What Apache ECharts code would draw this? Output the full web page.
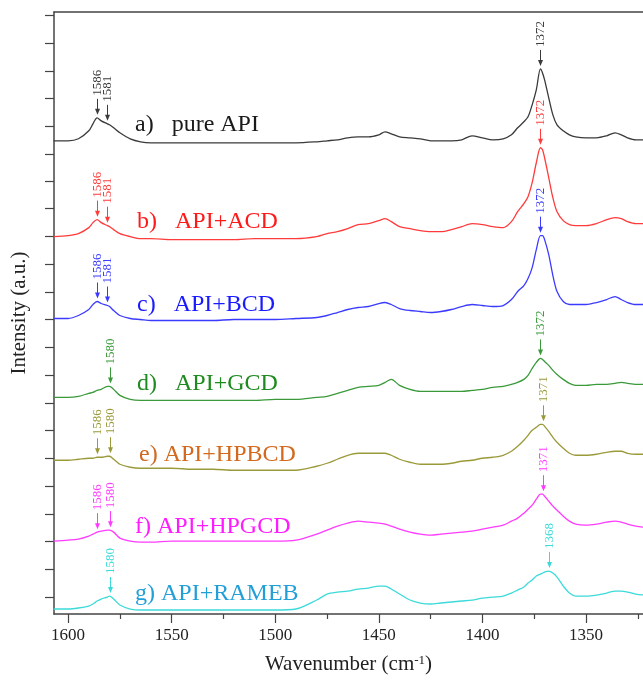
<!DOCTYPE html>
<html>
<head>
<meta charset="utf-8">
<title>Raman spectra</title>
<script src="https://cdn.jsdelivr.net/npm/echarts@6/dist/echarts.min.js"></script>
<style>
  html, body { margin: 0; padding: 0; background: #fff; }
  #chart { width: 643px; height: 680px; }
</style>
</head>
<body>
<div id="chart"></div>
<script>
// Espectros Raman (intensidad relativa a la linea base de cada curva)
const wavenumbers = [1607, 1600, 1595, 1590, 1588, 1586, 1584, 1581, 1580, 1578,
    1575, 1570, 1565, 1560, 1550, 1540, 1530, 1520, 1510, 1500,
    1490, 1480, 1475, 1470, 1465, 1460, 1455, 1450, 1447, 1444,
    1440, 1435, 1430, 1425, 1420, 1415, 1410, 1405, 1400, 1395,
    1390, 1386, 1383, 1380, 1378, 1376, 1374, 1372, 1371, 1370,
    1368, 1366, 1364, 1361, 1358, 1355, 1350, 1345, 1340, 1336,
    1333, 1330, 1326, 1322];

const pureAPI = [2, 2, 4, 12, 19, 25, 22, 19, 18, 15, 10, 4, 1, 0, 0, 0, 0, 0, 0, 0,
    0, 1, 2, 3, 5, 6, 6, 8, 11, 9, 6, 5, 4, 2, 2, 2, 3, 7, 5, 3,
    4, 8, 15, 21, 26, 38, 53, 74, 70, 63, 45, 28, 18, 12, 8, 6, 5, 5, 7, 10,
    8, 5, 3, 3];
const apiACD = [3, 4, 6, 12, 17, 20, 17, 14, 13, 10, 6, 3, 1, 1, 0, 0, 0, 0, 1, 1,
    1, 3, 6, 8, 11, 15, 16, 19, 21, 18, 13, 11, 9, 8, 8, 10, 13, 16, 15, 13,
    12, 18, 28, 36, 43, 57, 77, 92, 90, 82, 62, 42, 28, 19, 15, 14, 14, 16, 20, 22,
    21, 18, 16, 16];
const apiBCD = [2, 2, 5, 11, 16, 19, 17, 15, 14, 10, 5, 2, 1, 0, 0, 0, 0, 1, 1, 1,
    2, 3, 5, 8, 11, 13, 14, 17, 18, 16, 12, 10, 9, 8, 9, 11, 14, 16, 15, 14,
    15, 21, 29, 35, 42, 53, 71, 85, 85, 81, 66, 45, 29, 19, 16, 16, 16, 18, 21, 24,
    21, 18, 16, 16];
const apiGCD = [3, 3, 4, 7, 8, 10, 11, 14, 14, 11, 5, 1, 0, 0, 0, 0, 0, 0, 0, 1,
    1, 3, 4, 7, 10, 13, 14, 15, 18, 21, 15, 11, 9, 9, 9, 9, 9, 10, 11, 13,
    14, 16, 18, 21, 25, 32, 38, 42, 41, 39, 35, 30, 26, 21, 17, 15, 15, 16, 16, 17,
    18, 17, 16, 16];
const apiHPBCD = [11, 11, 12, 13, 13, 14, 14, 15, 15, 12, 7, 4, 3, 3, 3, 2, 2, 1, 1, 1,
    1, 5, 8, 12, 16, 18, 18, 18, 18, 16, 12, 9, 7, 7, 7, 8, 10, 11, 13, 14,
    16, 20, 25, 31, 36, 41, 44, 47, 47, 45, 40, 34, 29, 23, 18, 16, 16, 17, 19, 20,
    20, 18, 17, 17];
const apiHPGCD = [1, 2, 3, 6, 8, 10, 11, 12, 12, 10, 4, 1, 0, 0, 1, 1, 1, 1, 1, 1,
    2, 8, 12, 16, 19, 21, 20, 19, 18, 16, 13, 10, 8, 7, 8, 9, 10, 11, 13, 15,
    17, 21, 24, 29, 33, 37, 43, 48, 48, 46, 41, 36, 32, 26, 21, 18, 17, 18, 20, 21,
    20, 18, 16, 15];
const apiRAMEB = [2, 2, 3, 5, 7, 10, 12, 14, 15, 12, 6, 2, 1, 1, 1, 1, 1, 1, 1, 1,
    2, 11, 17, 19, 20, 22, 23, 25, 25, 22, 17, 11, 8, 7, 8, 9, 10, 11, 13, 14,
    15, 18, 21, 24, 28, 31, 35, 37, 38, 39, 40, 38, 34, 25, 18, 15, 15, 16, 18, 20,
    20, 19, 17, 16];

// Desplazamiento vertical de cada espectro (apilado)
const offsets = [455, 358, 277, 197, 126, 55, -14];

const sampleNames = ['a)   pure API', 'b)   API+ACD', 'c)   API+BCD', 'd)   API+GCD',
    'e) API+HPBCD', 'f) API+HPGCD', 'g) API+RAMEB'];

// Picos marcados con flecha en cada espectro
const peakMarks = [
    [1586, 1581, 1372],
    [1586, 1581, 1372],
    [1586, 1581, 1372],
    [1580, 1372],
    [1586, 1580, 1371],
    [1586, 1580, 1371],
    [1580, 1368]
];

const xTickLabels = [1350, 1400, 1450, 1500, 1550, 1600];
const xMinorTicks = [1325, 1375, 1425, 1475, 1525, 1575];

// Estilos
const lineColors = ['#3a3a3a', '#ff3b3b', '#3b3bff', '#3a9a3a', '#9a9a3a', '#ff3bff', '#3cdada'];
const nameColors = ['#1a1a1a', '#ff1a1a', '#1a1aff', '#1f8a1f', '#d2691e', '#ff1aff', '#239fd8'];
const namePos = [[135, 125], [137, 222], [137, 305], [137, 384], [139, 455], [135, 527], [135, 594]];
const serif = '"Liberation Serif", "Times New Roman", serif';
const axisColor = '#444';

const spectra = [pureAPI, apiACD, apiBCD, apiGCD, apiHPBCD, apiHPGCD, apiRAMEB];

// Ticks del eje Y (sin etiquetas), separacion constante
const yTicks = [];
for (let k = 0; k <= 21; k++) yTicks.push(Math.round(k * 27.76));

// Lista de anotaciones con la intensidad del espectro en cada pico
const annots = [];
peakMarks.forEach(function(list, s) {
    list.forEach(function(w) {
        const i = wavenumbers.indexOf(w);
        annots.push({ wn: w, y: offsets[s] + spectra[s][i], label: String(w), color: lineColors[s] });
    });
});

const chart = echarts.init(document.getElementById('chart'));

const series = spectra.map(function(values, s) {
    return {
        name: sampleNames[s],
        type: 'line',
        xAxisIndex: 0,
        yAxisIndex: 0,
        data: wavenumbers.map(function(w, i) { return [w, offsets[s] + values[i]]; }),
        showSymbol: false,
        smooth: 0.3,
        lineStyle: { color: lineColors[s], width: 1.3 },
        silent: true
    };
});

series.push({
    type: 'custom',
    xAxisIndex: 0,
    yAxisIndex: 0,
    clip: false,
    silent: true,
    z: 5,
    data: annots.map(function(a, i) { return [a.wn, a.y, i]; }),
    renderItem: function(params, api) {
        const a = annots[api.value(2)];
        const p = api.coord([api.value(0), api.value(1)]);
        const x = Math.round(p[0]) + 0.5;
        const tip = p[1] - 3;
        const tail = tip - 16;
        return {
            type: 'group',
            children: [
                { type: 'line', shape: { x1: x, y1: tail, x2: x, y2: tip - 4 },
                  style: { stroke: a.color, lineWidth: 1 } },
                { type: 'polygon', shape: { points: [[x - 2.5, tip - 6], [x + 2.5, tip - 6], [x, tip]] },
                  style: { fill: a.color } },
                { type: 'text', x: x, y: tail - 3, rotation: Math.PI / 2,
                  style: { text: a.label, fill: a.color, font: '13px ' + serif,
                           align: 'left', verticalAlign: 'middle' } }
            ]
        };
    }
});

const xRange = { type: 'value', inverse: true, min: 1322.5, max: 1606.8, splitLine: { show: false } };

const option = {
    animation: false,
    backgroundColor: '#fff',
    grid: { left: 54, right: 0, top: 12, bottom: 65 },
    xAxis: [
        Object.assign({}, xRange, {
            position: 'bottom',
            name: 'Wavenumber (cm{sup|-1})',
            nameLocation: 'middle',
            nameGap: 40,
            nameTextStyle: {
                fontFamily: serif, fontSize: 21, color: '#222',
                rich: { sup: { fontFamily: serif, fontSize: 13, color: '#222', verticalAlign: 'top' } }
            },
            axisLine: { onZero: false, lineStyle: { color: axisColor, width: 1.5 } },
            axisTick: { customValues: xTickLabels, length: 9, lineStyle: { color: axisColor, width: 1.2 } },
            axisLabel: {
                customValues: xTickLabels, fontFamily: serif, fontSize: 17, color: '#222', margin: 13,
                formatter: function(v) { return String(v); }
            }
        }),
        Object.assign({}, xRange, {
            position: 'bottom',
            axisLine: { show: false, onZero: false },
            axisTick: { customValues: xMinorTicks, length: 5, lineStyle: { color: axisColor, width: 1.2 } },
            axisLabel: { show: false }
        }),
        Object.assign({}, xRange, {
            position: 'top',
            axisLine: { onZero: false, lineStyle: { color: axisColor, width: 1.5 } },
            axisTick: { show: false },
            axisLabel: { show: false }
        })
    ],
    yAxis: {
        type: 'value',
        min: -17,
        max: 586,
        name: 'Intensity (a.u.)',
        nameLocation: 'middle',
        nameGap: 24,
        nameRotate: 90,
        nameTextStyle: { fontFamily: serif, fontSize: 21, color: '#222' },
        axisLine: { show: true, onZero: false, lineStyle: { color: axisColor, width: 1.5 } },
        axisTick: { show: true, customValues: yTicks, length: 9, lineStyle: { color: axisColor, width: 1.2 } },
        axisLabel: { show: false },
        splitLine: { show: false }
    },
    graphic: sampleNames.map(function(t, s) {
        return {
            type: 'text',
            x: namePos[s][0],
            y: namePos[s][1],
            silent: true,
            style: { text: t, fill: nameColors[s], font: '24px ' + serif, verticalAlign: 'middle' }
        };
    }),
    series: series
};

chart.setOption(option);
</script>
</body>
</html>
